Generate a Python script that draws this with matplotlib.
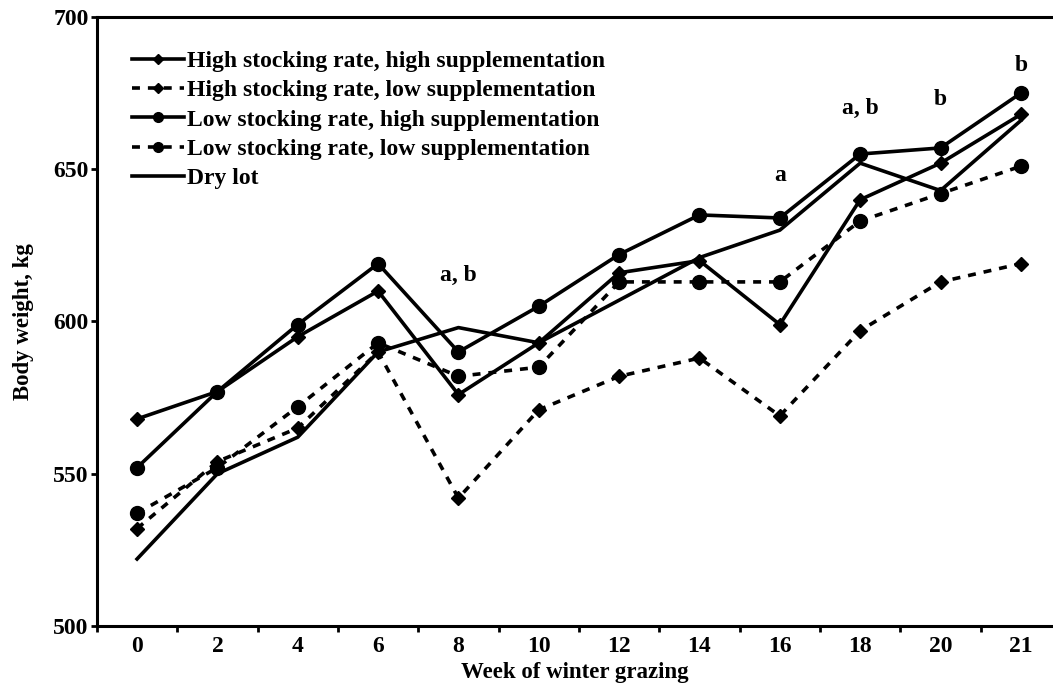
import matplotlib
matplotlib.use("Agg")

import matplotlib.pyplot as plt

# Daten
weeks = ["0", "2", "4", "6", "8", "10", "12", "14", "16", "18", "20", "21"]

high_sr_high_sup = [568, 577, 595, 610, 576, 593, 616, 620, 599, 640, 652, 668]
high_sr_low_sup = [532, 554, 565, 590, 542, 571, 582, 588, 569, 597, 613, 619]
low_sr_high_sup = [552, 577, 599, 619, 590, 605, 622, 635, 634, 655, 657, 675]
low_sr_low_sup = [537, 552, 572, 593, 582, 585, 613, 613, 613, 633, 642, 651]
dry_lot = [522, 550, 562, 590, 598, 593, 607, 621, 630, 652, 643, 666]

# Signifikanz-Buchstaben
sig_weeks = ["8", "16", "18", "20", "21"]
sig_labels = ["a, b", "a", "a, b", "b", "b"]
sig_y = [615, 648, 670, 673, 684]


def main():
    plt.rcParams["font.family"] = ["Liberation Serif", "DejaVu Serif"]
    plt.rcParams["font.weight"] = "bold"

    fig = plt.figure(figsize=(10.53, 6.94), dpi=100)
    ax = fig.add_axes([0.092, 0.098, 0.908, 0.8775])

    x = list(range(len(weeks)))
    dash = (0, (2.2, 2.2))

    ax.plot(x, high_sr_high_sup, color="black", lw=2.6, marker="D", ms=7,
            label="High stocking rate, high supplementation")
    ax.plot(x, high_sr_low_sup, color="black", lw=2.6, ls=dash, marker="D", ms=7,
            label="High stocking rate, low supplementation")
    ax.plot(x, low_sr_high_sup, color="black", lw=2.6, marker="o", ms=10,
            label="Low stocking rate, high supplementation")
    ax.plot(x, low_sr_low_sup, color="black", lw=2.6, ls=dash, marker="o", ms=10,
            label="Low stocking rate, low supplementation")
    ax.plot(x, dry_lot, color="black", lw=2.6, label="Dry lot")

    for w, lab, yv in zip(sig_weeks, sig_labels, sig_y):
        ax.text(weeks.index(w), yv, lab, ha="center", va="center",
                fontsize=17, fontweight="bold")

    # Achsen
    ax.set_xlim(-0.5, 11.4)
    ax.set_ylim(500, 700)
    ax.set_yticks([500, 550, 600, 650, 700])
    ax.set_xticks([i + 0.5 for i in range(-1, len(weeks) - 1)])
    ax.set_xticklabels([])
    ax.set_xticks(x, minor=True)
    ax.set_xticklabels(weeks, minor=True)
    ax.tick_params(axis="x", which="minor", length=0, pad=7, labelsize=17)
    ax.tick_params(axis="x", which="major", length=4, width=2)
    ax.tick_params(axis="y", length=4, width=2, labelsize=17, pad=2)

    for side in ["left", "bottom", "top"]:
        ax.spines[side].set_linewidth(2.2)
    ax.spines["right"].set_visible(False)

    ax.set_xlabel("Week of winter grazing", fontsize=16.5, fontweight="bold", labelpad=4)
    ax.set_ylabel("Body weight, kg", fontsize=16.5, fontweight="bold", labelpad=14)

    ax.legend(loc="upper left", bbox_to_anchor=(0.015, 0.98), frameon=False,
              handlelength=2.2, handletextpad=0.1, labelspacing=0.33,
              markerscale=0.7, prop={"weight": "bold", "size": 17})

    fig.savefig("out.png", dpi=100)
    plt.close(fig)


if __name__ == "__main__":
    main()
